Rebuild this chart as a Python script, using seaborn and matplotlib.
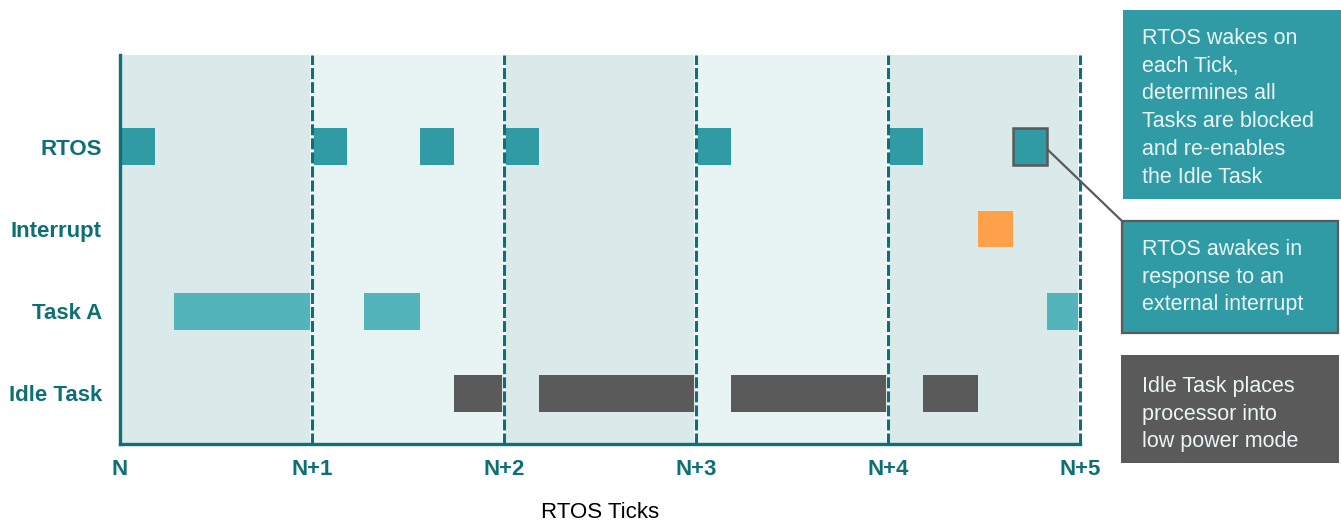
import matplotlib
matplotlib.use("Agg")
import matplotlib.pyplot as plt
from matplotlib.patches import Rectangle
from matplotlib.lines import Line2D
import seaborn as sns

# Rows of the timeline, top to bottom
rows = ["RTOS", "Interrupt", "Task A", "Idle Task"]

# Tick labels along the time axis
tick_labels = ["N", "N+1", "N+2", "N+3", "N+4", "N+5"]

# Activity segments, in units of RTOS ticks
rtos_start = [0.0, 1.0, 1.56, 2.0, 3.0, 4.0, 4.65]
rtos_len = [0.18, 0.18, 0.18, 0.18, 0.18, 0.18, 0.18]
interrupt_start = [4.47]
interrupt_len = [0.18]
task_a_start = [0.28, 1.27, 4.83]
task_a_len = [0.72, 0.29, 0.17]
idle_start = [1.74, 2.18, 3.18, 4.18]
idle_len = [0.26, 0.82, 0.82, 0.29]

# Index of the RTOS wake-up triggered by the interrupt
interrupt_wake = 6

notes = [
    "RTOS wakes on\neach Tick,\ndetermines all\nTasks are blocked\nand re-enables\nthe Idle Task",
    "RTOS awakes in\nresponse to an\nexternal interrupt",
    "Idle Task places\nprocessor into\nlow power mode",
]

TEAL_DARK = "#0f6f76"
TEAL = "#309ba4"
TEAL_LIGHT = "#54b4bc"
GREY = "#5a5a5a"
ORANGE = "#ffa04a"
BAND_DARK = "#dae9ea"
BAND_LIGHT = "#e8f4f3"

sns.set_theme(style="white")
plt.rcParams["font.family"] = ["Liberation Sans", "DejaVu Sans"]

W, H = 1341, 523
fig = plt.figure(figsize=(W / 100, H / 100), dpi=100)
ax = fig.add_axes([120 / W, (H - 444) / H, 960 / W, 389 / H])

ax.set_xlim(0, 5)
ax.set_ylim(3.62, -1.12)

# Alternating shading for each tick interval
for i in range(len(tick_labels) - 1):
    ax.axvspan(i, i + 1, color=BAND_DARK if i % 2 == 0 else BAND_LIGHT, lw=0, zorder=0)

bar_h = 0.45
series = [
    (0, rtos_start, rtos_len, TEAL),
    (1, interrupt_start, interrupt_len, ORANGE),
    (2, task_a_start, task_a_len, TEAL_LIGHT),
    (3, idle_start, idle_len, GREY),
]
for row, starts, lens, col in series:
    ax.barh([row] * len(starts), lens, left=starts, height=bar_h,
            color=col, lw=0, zorder=2)

# Outline the interrupt-driven wake-up
ax.barh([0], [rtos_len[interrupt_wake]], left=[rtos_start[interrupt_wake]],
        height=bar_h, color=TEAL, edgecolor=GREY, lw=1.8, zorder=3)

# Dashed tick boundaries
for t in range(1, len(tick_labels)):
    ax.axvline(t, color="white", lw=2.8, alpha=0.9, zorder=4, clip_on=False)
    ax.axvline(t, color=TEAL_DARK, lw=2.2, ls=(0, (3.6, 1.0)), zorder=5, clip_on=False)

for side in ["top", "right"]:
    ax.spines[side].set_visible(False)
for side in ["left", "bottom"]:
    ax.spines[side].set_color(TEAL_DARK)
    ax.spines[side].set_linewidth(2.4)
    ax.spines[side].set_zorder(6)

ax.set_xticks(range(len(tick_labels)))
ax.set_xticklabels(tick_labels, color=TEAL_DARK, fontsize=16, fontweight="bold")
ax.set_yticks(range(len(rows)))
ax.set_yticklabels(rows, color=TEAL_DARK, fontsize=16, fontweight="bold")
ax.tick_params(axis="x", length=0, pad=11)
ax.tick_params(axis="y", length=0, pad=13)
ax.grid(False)
ax.set_xlabel("")
fig.text(600 / W, 1 - 518 / H, "RTOS Ticks", fontsize=16, color="black",
         ha="center", va="baseline")


def px_rect(x0, y0, x1, y1, **kw):
    fig.patches.append(Rectangle((x0 / W, 1 - y1 / H), (x1 - x0) / W, (y1 - y0) / H,
                                 transform=fig.transFigure, **kw))


def px_text(x, y, s):
    fig.text(x / W, 1 - y / H, s, color="#eaf5f5", fontsize=15.5,
             ha="left", va="top", linespacing=1.42)


px_rect(1123, 10, 1345, 199, facecolor=TEAL, edgecolor="none")
px_text(1142, 28, notes[0])
px_rect(1122, 221, 1338, 333, facecolor=TEAL, edgecolor=GREY, lw=1.6)
px_text(1142, 239, notes[1])
px_rect(1121, 355, 1339, 463, facecolor=GREY, edgecolor="none")
px_text(1142, 376, notes[2])

# Connector from the outlined wake-up to its note
fig.lines.append(Line2D([1047 / W, 1123 / W], [1 - 149 / H, 1 - 222 / H],
                        transform=fig.transFigure, color=GREY, lw=1.6))

fig.savefig("out.png", dpi=100)
